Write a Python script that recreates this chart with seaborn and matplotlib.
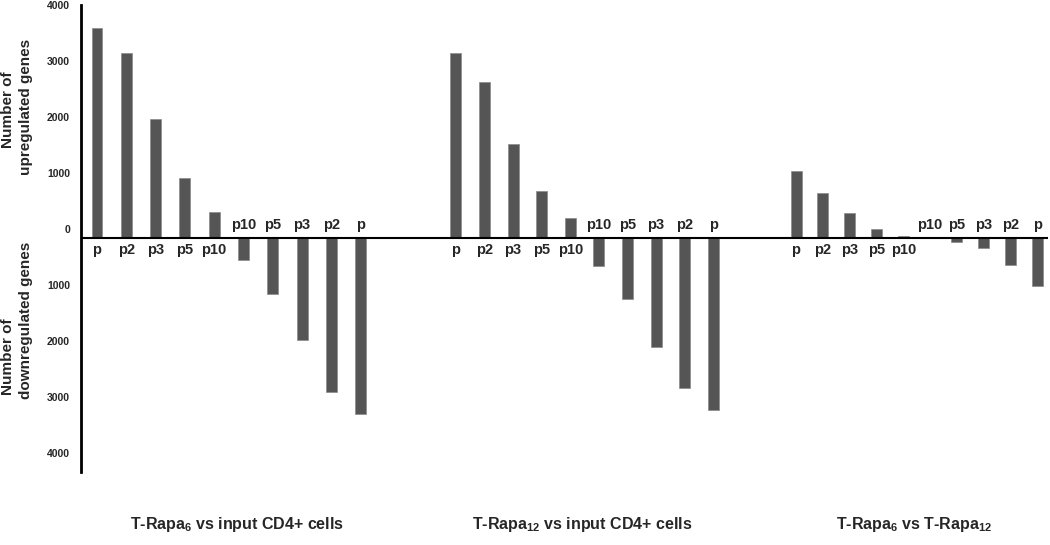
import pandas as pd
import matplotlib
matplotlib.use("Agg")
import matplotlib.pyplot as plt
import matplotlib.transforms as mtransforms
import seaborn as sns

sns.set_style("white")
plt.rcParams['font.family'] = ['Liberation Sans', 'DejaVu Sans']
plt.rcParams['mathtext.default'] = 'regular'

# comparisons (one group of bars each)
comparisons = ["T-Rapa$_6$ vs input CD4+ cells",
               "T-Rapa$_{12}$ vs input CD4+ cells",
               "T-Rapa$_6$ vs T-Rapa$_{12}$"]
up_labels = ["p", "p2", "p3", "p5", "p10"]
down_labels = ["p10", "p5", "p3", "p2", "p"]

# number of genes per p-value cutoff
up_rapa6_input = [3750, 3300, 2125, 1070, 465]
down_rapa6_input = [390, 1000, 1820, 2750, 3140]
up_rapa12_input = [3300, 2790, 1680, 840, 360]
down_rapa12_input = [500, 1090, 1950, 2680, 3070]
up_rapa6_rapa12 = [1200, 800, 445, 160, 35]
down_rapa6_rapa12 = [0, 65, 180, 490, 850]

up_values = [up_rapa6_input, up_rapa12_input, up_rapa6_rapa12]
down_values = [down_rapa6_input, down_rapa12_input, down_rapa6_rapa12]

# layout of the groups along x (slot units)
group_start = [0.0, 12.25, 23.86]
group_step = [1.0, 0.976, 0.915]

rows = []
for g in range(len(comparisons)):
    for i, (lab, v) in enumerate(zip(up_labels, up_values[g])):
        rows.append({"pos": group_start[g] + i * group_step[g], "label": lab,
                     "genes": v, "direction": "up"})
    for i, (lab, v) in enumerate(zip(down_labels, down_values[g])):
        rows.append({"pos": group_start[g] + (i + 5) * group_step[g], "label": lab,
                     "genes": -v, "direction": "down"})
df = pd.DataFrame(rows)

fig = plt.figure(figsize=(10.5, 5.45), dpi=100)
ax = fig.add_axes([81 / 1050, 1 - 472 / 545, 967 / 1050, 467 / 545])

sns.barplot(data=df, x="pos", y="genes", native_scale=True, width=0.41,
            color="#555555", edgecolor="#8a8a8a", linewidth=0.5,
            errorbar=None, ax=ax)

ax.set_xlim(-0.546, 32.46)
ax.set_ylim(-4180, 4160)
ax.axhline(0, color="black", lw=1.5, zorder=3)

for s in ["top", "right", "bottom"]:
    ax.spines[s].set_visible(False)
ax.spines["left"].set_color("black")
ax.spines["left"].set_linewidth(2)

ticks = list(range(-4000, 4001, 1000))
ax.set_yticks(ticks)
ax.set_yticklabels([str(abs(t)) for t in ticks], fontsize=7.5, fontweight="bold")
ax.tick_params(axis="y", length=0, pad=8)
offset = mtransforms.ScaledTranslation(0, 0.09, fig.dpi_scale_trans)
for lbl in ax.get_yticklabels():
    lbl.set_transform(lbl.get_transform() + offset)
ax.set_xticks([])
ax.set_xlabel("")
ax.set_ylabel("")

# p-value labels next to the zero line
for _, r in df.iterrows():
    if r["direction"] == "up":
        ax.text(r["pos"], -90, r["label"], ha="center", va="top",
                fontsize=10.5, fontweight="bold")
    else:
        ax.text(r["pos"], 100, r["label"], ha="center", va="bottom",
                fontsize=10.5, fontweight="bold")

# y axis titles
fig.text(8 / 1050, 1 - 110 / 545, "Number of", rotation=90, ha="center", va="center",
         fontsize=11, fontweight="bold")
fig.text(26 / 1050, 1 - 107 / 545, "upregulated genes", rotation=90, ha="center",
         va="center", fontsize=11, fontweight="bold")
fig.text(8 / 1050, 1 - 357 / 545, "Number of", rotation=90, ha="center", va="center",
         fontsize=11, fontweight="bold")
fig.text(26 / 1050, 1 - 320 / 545, "downregulated genes", rotation=90, ha="center",
         va="center", fontsize=11, fontweight="bold")

# comparison titles under each group
title_x = [237, 582, 914]
for name, x in zip(comparisons, title_x):
    fig.text(x / 1050, 1 - 524 / 545, name, ha="center", va="center", fontsize=11.5,
             fontweight="bold")

fig.savefig("out.png", dpi=100)
plt.close(fig)
